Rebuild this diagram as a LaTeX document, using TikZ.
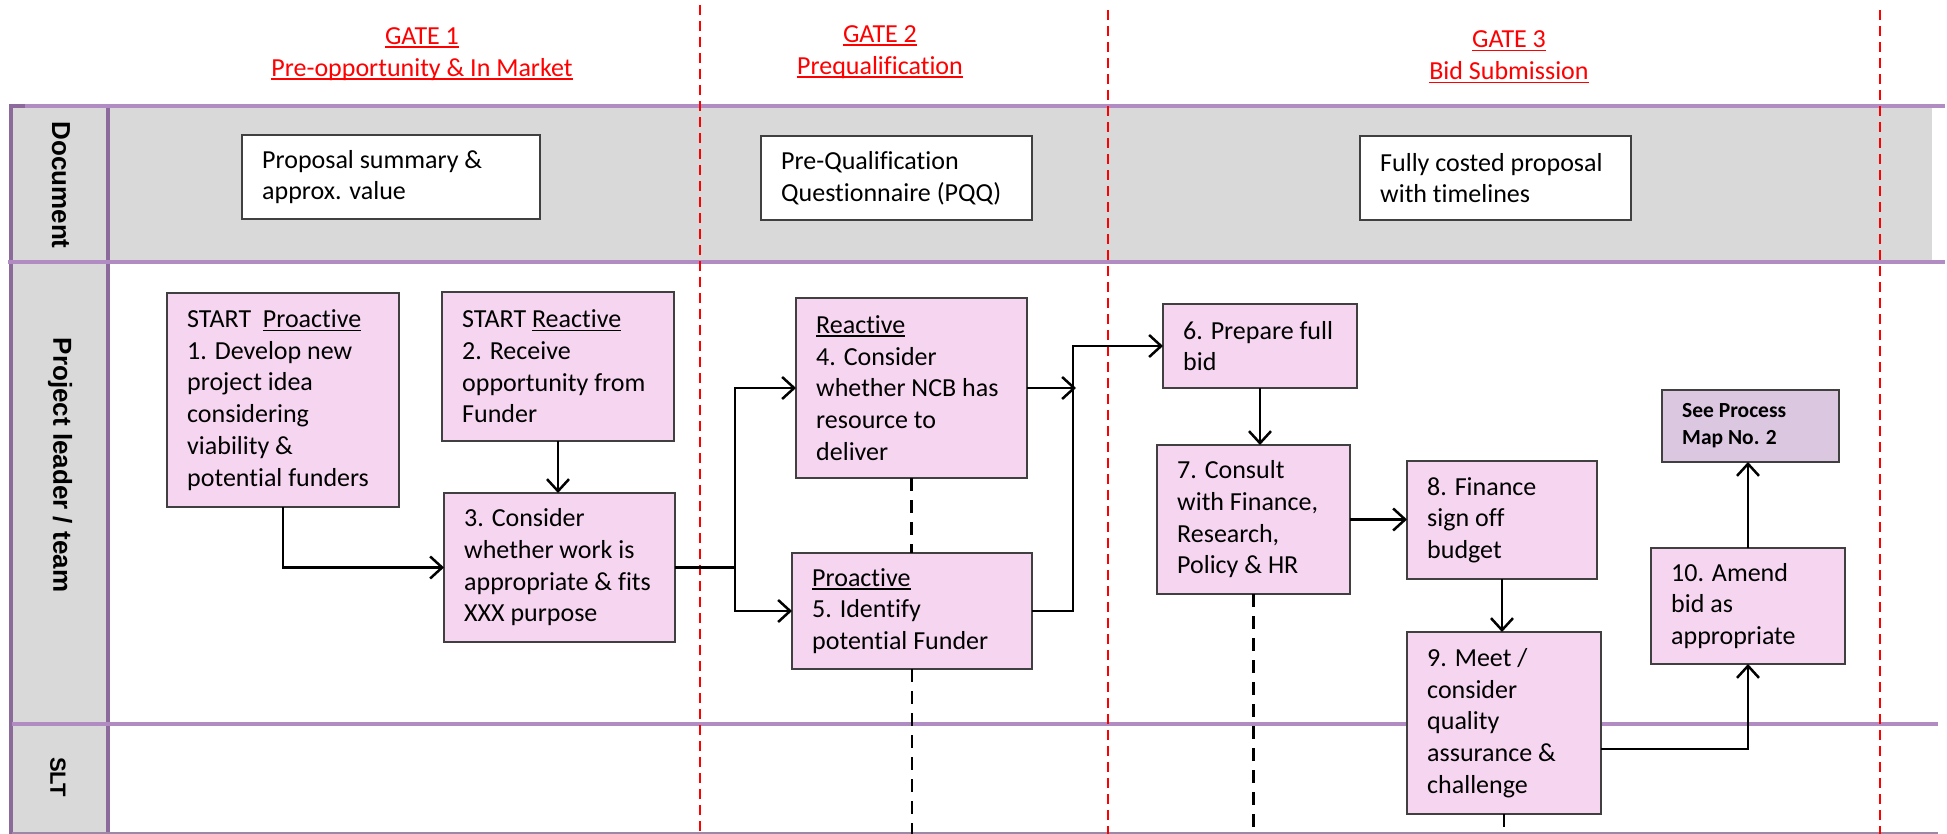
\documentclass[tikz,border=0pt]{standalone}
\usepackage{fontspec}
\setmainfont{Carlito}[Ligatures={NoCommon}]
\newfontfamily\lanefont{Liberation Sans}
\usetikzlibrary{arrows.meta,calc}
\definecolor{boxpink}{RGB}{246,213,240}
\definecolor{seefill}{RGB}{220,199,225}
\definecolor{lanelinecol}{RGB}{176,140,194}
\definecolor{hdrlinecol}{RGB}{140,107,156}
\definecolor{lanegray}{RGB}{217,217,217}
\definecolor{boxedge}{RGB}{64,64,64}
\definecolor{gatered}{RGB}{255,0,0}
\newcommand{\ulx}[1]{\setbox0\hbox{#1}\rlap{\rule[-3.5pt]{\wd0}{1.6pt}}\box0}
\newcommand{\mkbox}[6]{%
  \node[#1, minimum width={(#5-#3)*1pt}, minimum height={(#6-#4)*1pt}] (#2) at ({(#3+#5)/2},{(#4+#6)/2}) {};}
\tikzset{
  procbox/.style={draw=boxedge, line width=2.5pt, fill=boxpink, inner sep=0pt, outer sep=0pt},
  docbox/.style={draw=boxedge, line width=2.5pt, fill=white, inner sep=0pt, outer sep=0pt},
  seebox/.style={draw=boxedge, line width=2.5pt, fill=seefill, inner sep=0pt, outer sep=0pt},
  boxtext/.style={align=left, inner sep=0pt, font=\fontsize{26}{31.7}\selectfont, anchor=west},
  seetext/.style={align=left, inner sep=0pt, font=\bfseries\fontsize{21.5}{27}\selectfont, anchor=west},
  gatelabel/.style={align=center, text=gatered, font=\fontsize{26}{32}\selectfont, inner sep=0pt},
  lanelabel/.style={rotate=-90, font=\lanefont\bfseries\fontsize{26}{30}\selectfont, inner sep=0pt},
  gateline/.style={draw=gatered, line width=2.5pt, dash pattern=on 10pt off 6pt},
  tieline/.style={draw=black, line width=2.5pt, dash pattern=on 13pt off 9pt},
  lanerule/.style={draw=lanelinecol, line width=4pt},
  hdrrule/.style={draw=hdrlinecol, line width=4pt},
  flow/.style={draw=black, line width=2.5pt, -{Straight Barb[length=12pt,width=22pt]}},
}
\begin{document}
\begin{tikzpicture}[x=1pt, y=-1pt]
\useasboundingbox (0,0) rectangle (1947,834);
% lanes
\fill[lanegray] (110,107) rectangle (1932,262);
\fill[lanegray] (11,107) rectangle (108,834);
\draw[hdrrule] (11,834) -- (11,106) -- (25,106);
\draw[hdrrule] (108,107) -- (108,834);
\draw[lanerule] (25,106) -- (1945,106);
\draw[lanerule] (8,262) -- (1945,262);
\draw[lanerule] (12,724) -- (1938,724);
\draw[draw=lanelinecol!60!gray, line width=1.2pt] (12,833) -- (1938,833);
% lane labels
\node[lanelabel] (lDoc) at (61,185) {Document};
\node[lanelabel] (lProj) at (60,465) {Project leader / team};
\node[lanelabel, font=\lanefont\bfseries\fontsize{22}{26}\selectfont] (lSLT) at (58,777) {SLT};
% gates
\draw[gateline] (700,5) -- (700,834);
\draw[gateline] (1108,10) -- (1108,834);
\draw[gateline] (1880,10) -- (1880,834);
\node[gatelabel] (g1) at (422,54) {\ulx{GATE 1}\\\ulx{Pre-opportunity \& In Market}};
\node[gatelabel] (g2) at (880,52) {\ulx{GATE 2}\\\ulx{Prequalification}};
\node[gatelabel] (g3) at (1509,57) {\ulx{GATE 3}\\\ulx{Bid Submission}};
% document boxes
\mkbox{docbox}{d1}{242}{135}{540}{219}
\mkbox{docbox}{d2}{761}{136}{1032}{220}
\mkbox{docbox}{d3}{1360}{136}{1631}{220}
\node[boxtext] (d1t) at ([xshift=20pt]d1.west) {Proposal summary \&\\approx. value};
\node[boxtext] (d2t) at ([xshift=20pt]d2.west) {Pre-Qualification\\Questionnaire (PQQ)};
\node[boxtext] (d3t) at ([xshift=20pt]d3.west) {Fully costed proposal\\with timelines};
% process boxes
\mkbox{procbox}{b1}{167}{293}{399}{507}
\mkbox{procbox}{b2}{442}{292}{674}{441}
\mkbox{procbox}{b3}{444}{493}{675}{642}
\mkbox{procbox}{b4}{796}{298}{1027}{478}
\mkbox{procbox}{b5}{792}{553}{1032}{669}
\mkbox{procbox}{b6}{1163}{304}{1357}{388}
\mkbox{procbox}{b7}{1157}{445}{1350}{594}
\mkbox{procbox}{b8}{1407}{461}{1597}{579}
\mkbox{procbox}{b9}{1407}{632}{1601}{814}
\mkbox{procbox}{b10}{1651}{548}{1845}{664}
\mkbox{seebox}{see}{1662}{390}{1839}{462}
\node[boxtext] (b1t) at ([xshift=20pt]b1.west) {START\ \ \ulx{Proactive}\\1. Develop new\\project idea\\considering\\viability \&\\potential funders};
\node[boxtext] (b2t) at ([xshift=20pt]b2.west) {START \ulx{Reactive}\\2. Receive\\opportunity from\\Funder};
\node[boxtext] (b3t) at ([xshift=20pt]b3.west) {3. Consider\\whether work is\\appropriate \& fits\\XXX purpose};
\node[boxtext] (b4t) at ([xshift=20pt]b4.west) {\ulx{Reactive}\\4. Consider\\whether NCB has\\resource to\\deliver};
\node[boxtext] (b5t) at ([xshift=20pt]b5.west) {\ulx{Proactive}\\5. Identify\\potential Funder};
\node[boxtext] (b6t) at ([xshift=20pt]b6.west) {6. Prepare full\\bid};
\node[boxtext] (b7t) at ([xshift=20pt]b7.west) {7. Consult\\with Finance,\\Research,\\Policy \& HR};
\node[boxtext] (b8t) at ([xshift=20pt]b8.west) {8. Finance\\sign off\\budget};
\node[boxtext] (b9t) at ([xshift=20pt]b9.west) {9. Meet /\\consider\\quality\\assurance \&\\challenge};
\node[boxtext] (b10t) at ([xshift=20pt]b10.west) {10. Amend\\bid as\\appropriate};
\node[seetext] (seet) at ([xshift=20pt]see.west) {See Process\\Map No. 2};
% dashed ties
\coordinate (bot4) at (b5.south |- 0,834);
\coordinate (bot7) at (b7.south |- 0,834);
\coordinate (bot9) at (b9.south |- 0,834);
\draw[tieline] (b4.south) -- (b4.south |- b5.north);
\draw[tieline] (b5.south) -- (bot4);
\draw[tieline] (b7.south) -- (bot7);
\draw[tieline] (b9.south) -- (bot9);
% connectors
\coordinate (fork) at (735,567.5);
\coordinate (turn) at (1073,611);
\draw[flow] (b1.south) |- (b3.west);
\draw[flow] (b2.south) -- (b2.south |- b3.north);
\draw[flow] (b3.east) -- (fork) |- (b4.west);
\draw[flow] (fork) |- (b5.west);
\draw[flow] (b4.east) -- ([xshift=3pt]b4.east -| turn);
\draw[flow] (b5.east) -- (turn) |- (b6.west);
\draw[flow] (b6.south) -- (b6.south |- b7.north);
\draw[flow] (b7.east) -- (b7.east -| b8.west);
\draw[flow] (b8.south) -- (b8.south |- b9.north);
\draw[flow] ([yshift=-26pt]b9.east) -| (b10.south);
\draw[flow] (b10.north) -- (b10.north |- see.south);
\end{tikzpicture}
\end{document}
